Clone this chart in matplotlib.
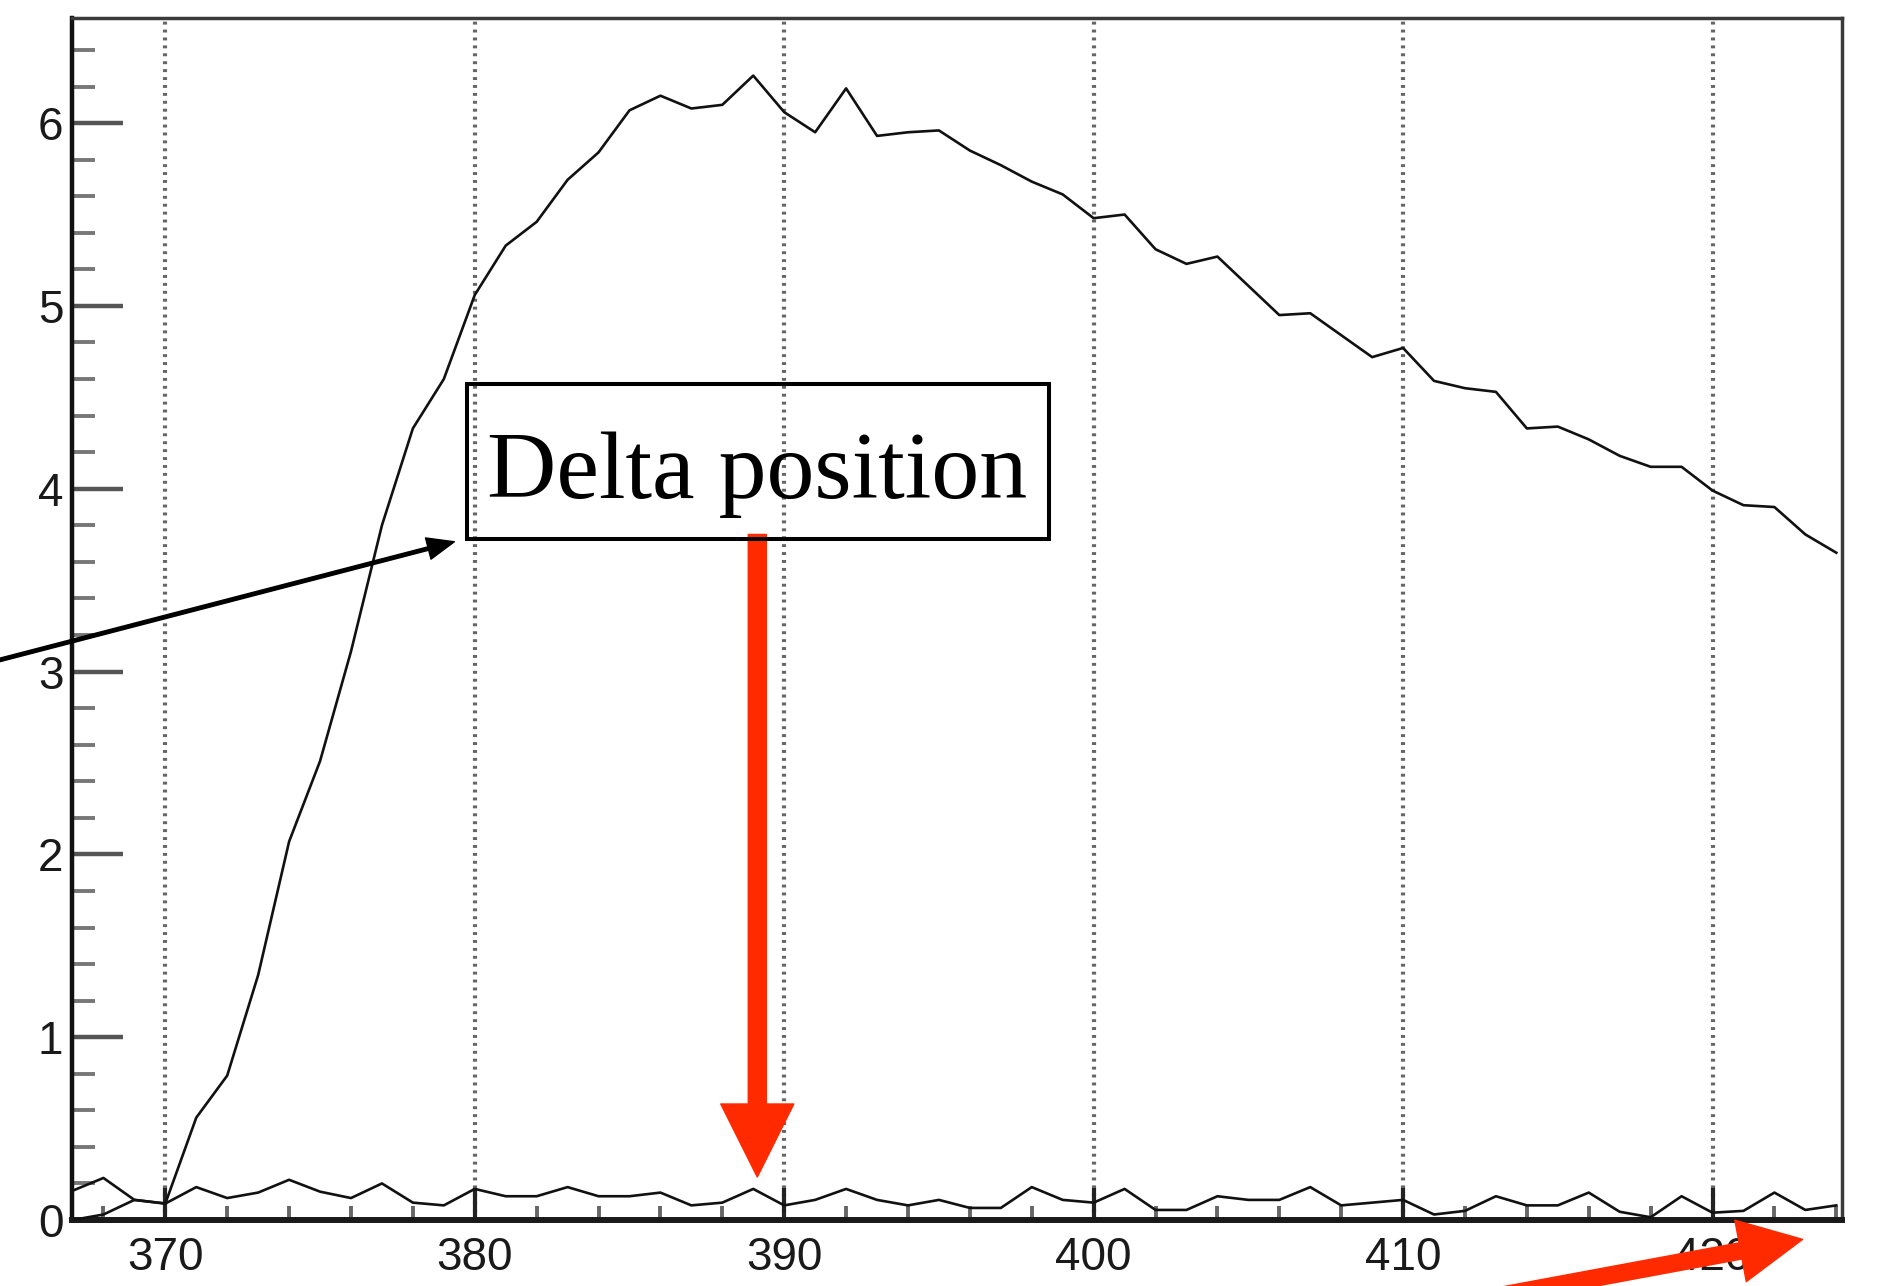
import matplotlib

matplotlib.use("Agg")

import matplotlib.pyplot as plt
import numpy as np
from matplotlib.patches import Rectangle
from matplotlib.ticker import MultipleLocator

# x positions (one point per unit)
x_vals = np.arange(367, 425)

upper_curve = [
    0.00, 0.03, 0.11, 0.09, 0.56, 0.79, 1.34, 2.07, 2.51, 3.11,
    3.80, 4.33, 4.60, 5.06, 5.33, 5.46, 5.69, 5.84, 6.07, 6.15,
    6.08, 6.10, 6.26, 6.06, 5.95, 6.19, 5.93, 5.95, 5.96, 5.85,
    5.77, 5.68, 5.61, 5.48, 5.50, 5.31, 5.23, 5.27, 5.11, 4.95,
    4.96, 4.84, 4.72, 4.77, 4.59, 4.55, 4.53, 4.33, 4.34, 4.27,
    4.18, 4.12, 4.12, 3.99, 3.91, 3.90, 3.75, 3.65,
]

lower_curve = [
    0.16, 0.23, 0.11, 0.09, 0.18, 0.12, 0.15, 0.22, 0.155, 0.12,
    0.20, 0.095, 0.08, 0.17, 0.13, 0.13, 0.18, 0.13, 0.13, 0.15,
    0.08, 0.095, 0.17, 0.08, 0.11, 0.17, 0.11, 0.08, 0.11, 0.066,
    0.066, 0.18, 0.11, 0.095, 0.17, 0.055, 0.055, 0.13, 0.11, 0.11,
    0.18, 0.08, 0.095, 0.11, 0.03, 0.05, 0.13, 0.08, 0.08, 0.15,
    0.045, 0.015, 0.13, 0.04, 0.05, 0.15, 0.055, 0.08,
]

x_ticks = [370, 380, 390, 400, 410, 420]
y_ticks = [0, 1, 2, 3, 4, 5, 6]

label_text = "Delta position"
red = "#FF2A00"

fig = plt.figure(figsize=(18.81, 12.86), dpi=100, facecolor="white")
ax = fig.add_axes([0.03854, 0.05132, 0.94099, 0.93468])

ax.plot(x_vals, upper_curve, color="#111111", linewidth=1.9, zorder=3)
ax.plot(x_vals, lower_curve, color="#111111", linewidth=1.9, zorder=3)

ax.set_xlim(367.0, 424.2)
ax.set_ylim(0, 6.575)
ax.set_xticks(x_ticks)
ax.set_yticks(y_ticks)
ax.xaxis.set_minor_locator(MultipleLocator(2))
ax.yaxis.set_minor_locator(MultipleLocator(0.2))

ax.set_axisbelow(True)
ax.grid(axis="x", which="major", color="#666666", linestyle=(0, (0.7, 1.2)),
        linewidth=3.0)

for lab in ax.get_xticklabels() + ax.get_yticklabels():
    lab.set_family("Liberation Sans")
    lab.set_color("#1a1a1a")

ax.tick_params(axis="y", which="major", direction="in", length=36.5, width=3.2,
               color="#555555", pad=6.5, labelsize=33)
ax.tick_params(axis="y", which="minor", direction="in", length=16.5, width=2.8,
               color="#777777")
ax.tick_params(axis="x", which="major", direction="in", length=23, width=3.0,
               color="#222222", pad=11.5, labelsize=33)
ax.tick_params(axis="x", which="minor", direction="in", length=10, width=2.8,
               color="#666666")

ax.spines["left"].set_linewidth(3.2)
ax.spines["left"].set_color("#111111")
ax.spines["bottom"].set_linewidth(4.3)
ax.spines["bottom"].set_color("#1a1a1a")
for side in ("top", "right"):
    ax.spines[side].set_linewidth(2.5)
    ax.spines[side].set_color("#3a3a3a")

# annotation box with label
ax.add_patch(Rectangle((379.75, 3.725), 18.82, 0.848, fill=False,
                       edgecolor="black", linewidth=2.9, clip_on=False, zorder=5))
ax.text(389.12, 3.95, label_text, ha="center", va="baseline",
        fontsize=69, family="Liberation Serif", color="black", zorder=6)

# black arrow pointing at the box
ax.annotate("", xy=(379.34, 3.71), xytext=(364.0, 3.035),
            xycoords="data", textcoords="data", annotation_clip=False,
            arrowprops=dict(arrowstyle="simple,head_length=0.194,head_width=0.158,tail_width=0.025",
                            mutation_scale=100, color="black", shrinkA=0, shrinkB=0))

# red arrow down to the lower curve
ax.annotate("", xy=(389.13, 0.235), xytext=(389.13, 3.75),
            xycoords="data", textcoords="data", annotation_clip=False,
            arrowprops=dict(arrowstyle="simple,head_length=0.526,head_width=0.526,tail_width=0.13",
                            mutation_scale=100, color=red, shrinkA=0, shrinkB=0))

# red arrow at the bottom right
ax.annotate("", xy=(422.91, -0.106), xytext=(411.5, -0.465),
            xycoords="data", textcoords="data", annotation_clip=False,
            arrowprops=dict(arrowstyle="simple,head_length=0.454,head_width=0.45,tail_width=0.118",
                            mutation_scale=100, color=red, shrinkA=0, shrinkB=0),
            zorder=10)

fig.savefig("out.png", dpi=100, facecolor="white")
plt.close(fig)
